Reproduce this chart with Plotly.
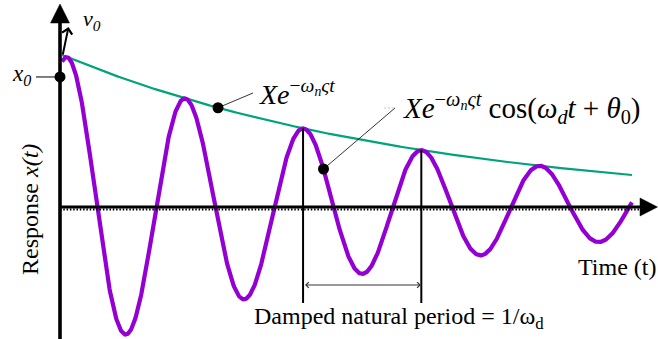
import numpy as np
import plotly.graph_objects as go

# ---- parameters of the damped free response x(t) = X e^{-wn*zeta*t} cos(wd*t + theta0)
X_AMPLITUDE = [1.0]          # envelope amplitude X
ZETA_OMEGA_N = [0.323]       # decay rate wn*zeta (per time unit)
DAMPED_PERIOD = [1.0]        # 1/wd, one full oscillation
THETA_0 = [-0.40]            # phase angle (rad)
T_SPAN = [0.017, 4.837]      # time window of the drawn response
X0_VALUE = [0.851]           # initial displacement marker
PERIOD_MARK_CYCLES = [2, 3]  # peaks bracketing the period dimension

# ---- text
LBL_ENVELOPE = "<i>Xe</i><sup>−<i>ω<sub>n</sub>ςt</i></sup>"
LBL_RESPONSE = ("<i>Xe</i><sup>−<i>ω<sub>n</sub>ςt</i></sup> cos(<i>ω<sub>d</sub>t</i> + "
                "<i>θ</i><sub>0</sub>)")
LBL_YAXIS = "Response <i>x(t)</i>"
LBL_XAXIS = "Time (t)"
LBL_PERIOD = "Damped natural period = 1/ω<sub>d</sub>"
LBL_X0 = "<i>x<sub>0</sub></i>"
LBL_V0 = "<i>v<sub>0</sub></i>"

W, H = 658, 339
PX_T = 118.25      # screen pixels per time unit
PX_X = 152.8       # screen pixels per response unit
ORIGIN = (60, 207)  # screen position of the origin


def tx(px):
    return (px - ORIGIN[0]) / PX_T


def vy(py):
    return (ORIGIN[1] - py) / PX_X


wd = 2 * np.pi / DAMPED_PERIOD[0]
a = ZETA_OMEGA_N[0]
X = X_AMPLITUDE[0]
th0 = THETA_0[0]


def envelope(t):
    return X * np.exp(-a * t)


def response(t):
    return envelope(t) * np.cos(wd * t + th0)


t = np.linspace(T_SPAN[0], T_SPAN[1], 1200)
t_peak = lambda k: (2 * np.pi * k - th0 - np.arctan(a / wd)) / wd

FONT = "Liberation Serif"
BLACK = "#000000"
PURPLE = "#9400D3"
GREEN = "#00A37A"

fig = go.Figure()

# envelope and response
fig.add_trace(go.Scatter(x=t, y=envelope(t), mode="lines",
                         line=dict(color=GREEN, width=2.2), hoverinfo="skip"))
fig.add_trace(go.Scatter(x=t, y=response(t), mode="lines",
                         line=dict(color=PURPLE, width=4.2), hoverinfo="skip"))

shapes = []
# axes
shapes.append(dict(type="line", x0=0, x1=tx(641), y0=vy(209.6), y1=vy(209.6),
                   line=dict(color=BLACK, width=2, dash="1.5px,1.8px")))
shapes.append(dict(type="line", x0=0, x1=tx(642), y0=0, y1=0,
                   line=dict(color=BLACK, width=3.2)))
shapes.append(dict(type="line", x0=0, x1=0, y0=vy(H + 2), y1=vy(22),
                   line=dict(color=BLACK, width=3.6)))
shapes.append(dict(type="path",
                   path=f"M{tx(50.5)},{vy(23)} L{tx(60)},{vy(4)} L{tx(69.5)},{vy(23)} Z",
                   fillcolor=BLACK, line=dict(color=BLACK, width=0.5)))
shapes.append(dict(type="path",
                   path=f"M{tx(640)},{vy(198)} L{tx(657.5)},{vy(207)} L{tx(640)},{vy(216)} Z",
                   fillcolor=BLACK, line=dict(color=BLACK, width=0.5)))

# period markers at two successive peaks
for k in PERIOD_MARK_CYCLES:
    tp = t_peak(k)
    shapes.append(dict(type="line", x0=tp, x1=tp, y0=response(tp), y1=vy(303),
                       line=dict(color=BLACK, width=2)))

# x0 tick
shapes.append(dict(type="line", x0=tx(36), x1=tx(58), y0=X0_VALUE[0], y1=X0_VALUE[0],
                   line=dict(color=BLACK, width=1)))

# leader lines to the formula labels
t_env_dot = tx(218)
t_rsp_dot = tx(323.5)
shapes.append(dict(type="line", x0=t_env_dot, y0=envelope(t_env_dot), x1=tx(253), y1=vy(93),
                   line=dict(color=BLACK, width=0.8)))
shapes.append(dict(type="line", x0=t_rsp_dot, y0=response(t_rsp_dot), x1=tx(395), y1=vy(108),
                   line=dict(color=BLACK, width=0.8)))
shapes.append(dict(type="line", x0=tx(384), y0=vy(108), x1=tx(395), y1=vy(108),
                   line=dict(color="#BBBBBB", width=0.8, dash="2px,2px")))

# dots
fig.add_trace(go.Scatter(
    x=[0, t_env_dot, t_rsp_dot],
    y=[X0_VALUE[0], envelope(t_env_dot), response(t_rsp_dot)],
    mode="markers", marker=dict(color=BLACK, size=11), hoverinfo="skip"))

ann = []
# period dimension arrow
tp3, tp4 = t_peak(PERIOD_MARK_CYCLES[0]), t_peak(PERIOD_MARK_CYCLES[1])
ann.append(dict(x=tp4 - 0.004, y=vy(285), ax=tp3 + 0.004, ay=vy(285), axref="x", ayref="y",
                xref="x", yref="y", text="", showarrow=True, arrowhead=4, arrowside="end+start",
                arrowsize=1.1, arrowwidth=1, arrowcolor="#333333"))
# initial velocity arrow
ann.append(dict(x=tx(68.5), y=vy(27), ax=tx(62.5), ay=vy(56), axref="x", ayref="y",
                xref="x", yref="y", text="", showarrow=True, arrowhead=4,
                arrowsize=1.0, arrowwidth=2, arrowcolor=BLACK))


def label(px, py, text, size, xanchor="center", angle=0):
    ann.append(dict(x=tx(px), y=vy(py), xref="x", yref="y", text=text, showarrow=False,
                    xanchor=xanchor, yanchor="middle", textangle=angle,
                    font=dict(family=FONT, size=size, color=BLACK)))


label(257, 92, LBL_ENVELOPE, 28, xanchor="left")
label(401, 108, LBL_RESPONSE, 29, xanchor="left")
label(30, 210, LBL_YAXIS, 24, angle=-90)
label(617, 267, LBL_XAXIS, 24)
label(399, 318, LBL_PERIOD, 24)
label(21, 75, LBL_X0, 23)
label(92, 20, LBL_V0, 22)

fig.update_layout(
    width=W, height=H, margin=dict(l=0, r=0, t=0, b=0),
    paper_bgcolor="white", plot_bgcolor="white", showlegend=False,
    xaxis=dict(range=[tx(0), tx(W)], visible=False, fixedrange=True),
    yaxis=dict(range=[vy(H), vy(0)], visible=False, fixedrange=True),
    shapes=shapes, annotations=ann,
)

fig.write_html("out.html")
